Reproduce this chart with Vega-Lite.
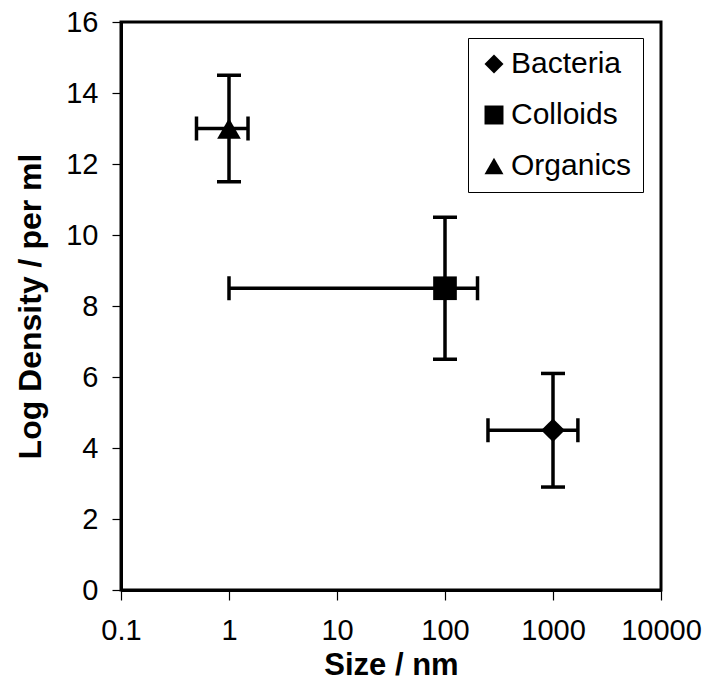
{
  "$schema": "https://vega.github.io/schema/vega-lite/v6.json",
  "autosize": "none",
  "width": 540,
  "height": 568,
  "padding": {"left": 121, "top": 22, "right": 48, "bottom": 105},
  "background": "white",
  "config": {
    "font": "Liberation Sans",
    "view": {"stroke": "black", "strokeWidth": 3},
    "axis": {"domainColor": "black", "domainWidth": 3, "tickColor": "black", "tickWidth": 1.2, "labelColor": "black", "titleColor": "black", "grid": false}
  },
  "data": {"values": [
    {"type": "Bacteria", "size": 1000, "density": 4.5, "xlo": 250, "xhi": 1700, "ylo": 2.9, "yhi": 6.1},
    {"type": "Colloids", "size": 100, "density": 8.5, "xlo": 1, "xhi": 200, "ylo": 6.5, "yhi": 10.5},
    {"type": "Organics", "size": 1, "density": 13, "xlo": 0.5, "xhi": 1.5, "ylo": 11.5, "yhi": 14.5}
  ]},
  "layer": [
    {
      "mark": {"type": "rule", "color": "black", "strokeWidth": 3.5},
      "encoding": {
        "x": {"field": "xlo", "type": "quantitative", "scale": {"type": "log", "domain": [0.1, 10000]},
          "axis": {"values": [0.1, 1, 10, 100, 1000, 10000], "format": "~g", "title": "Size / nm", "labelFontSize": 29, "titleFontSize": 31, "titleFontWeight": "bold", "tickSize": 10, "labelPadding": 16, "titlePadding": 5, "labelFlush": false}},
        "x2": {"field": "xhi"},
        "y": {"field": "density", "type": "quantitative", "scale": {"domain": [0, 16]},
          "axis": {"values": [0, 2, 4, 6, 8, 10, 12, 14, 16], "title": "Log Density / per ml", "labelFontSize": 29, "titleFontSize": 32, "titleFontWeight": "bold", "tickSize": 9, "labelPadding": 14, "titlePadding": 18}}
      }
    },
    {
      "mark": {"type": "rule", "color": "black", "strokeWidth": 3.5},
      "encoding": {
        "x": {"field": "size", "type": "quantitative"},
        "y": {"field": "ylo", "type": "quantitative"},
        "y2": {"field": "yhi"}
      }
    },
    {
      "mark": {"type": "tick", "orient": "vertical", "color": "black", "thickness": 3.5, "size": 24, "opacity": 1},
      "encoding": {
        "x": {"field": "xlo", "type": "quantitative"},
        "y": {"field": "density", "type": "quantitative"}
      }
    },
    {
      "mark": {"type": "tick", "orient": "vertical", "color": "black", "thickness": 3.5, "size": 24, "opacity": 1},
      "encoding": {
        "x": {"field": "xhi", "type": "quantitative"},
        "y": {"field": "density", "type": "quantitative"}
      }
    },
    {
      "mark": {"type": "tick", "orient": "horizontal", "color": "black", "thickness": 3.5, "size": 24, "opacity": 1},
      "encoding": {
        "x": {"field": "size", "type": "quantitative"},
        "y": {"field": "ylo", "type": "quantitative"}
      }
    },
    {
      "mark": {"type": "tick", "orient": "horizontal", "color": "black", "thickness": 3.5, "size": 24, "opacity": 1},
      "encoding": {
        "x": {"field": "size", "type": "quantitative"},
        "y": {"field": "yhi", "type": "quantitative"}
      }
    },
    {
      "mark": {"type": "point", "filled": true, "opacity": 1, "color": "black", "size": 560},
      "encoding": {
        "x": {"field": "size", "type": "quantitative"},
        "y": {"field": "density", "type": "quantitative"},
        "shape": {"field": "type", "type": "nominal",
          "scale": {"domain": ["Bacteria", "Colloids", "Organics"], "range": ["diamond", "square", "triangle-up"]},
          "legend": {"title": null, "orient": "none", "legendX": 347, "legendY": 16, "padding": 11, "strokeColor": "black", "fillColor": "white", "labelFontSize": 30, "labelColor": "black", "symbolSize": 360, "symbolFillColor": "black", "symbolStrokeColor": "black", "symbolOpacity": 1, "rowPadding": 21, "labelOffset": 2}}
      }
    }
  ]
}
